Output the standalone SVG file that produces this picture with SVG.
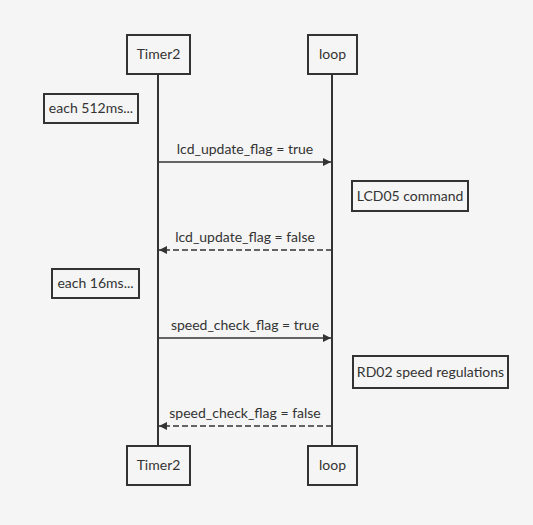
<svg xmlns="http://www.w3.org/2000/svg" width="533" height="525" viewBox="0 0 533 525">
<defs>
<style>
.box{fill:#f5f5f5;stroke:#333;stroke-width:2}
.life{stroke:#333;stroke-width:2;fill:none}
.msg{stroke:#333;stroke-width:1.5;fill:none}
.dash{stroke-dasharray:6 3}
text{font-family:Lato,"Noto Sans",sans-serif;font-size:14px;fill:#333}
.c{text-anchor:middle}
</style>
<marker id="ah" viewBox="0 0 10 10" refX="10" refY="5" markerWidth="8" markerHeight="8" markerUnits="userSpaceOnUse" orient="auto"><path d="M0,0 L10,5 L0,10 z" fill="#333"/></marker>
</defs>
<rect width="533" height="525" fill="#f5f5f5"/>
<g id="connectors">
<line class="life" x1="158" y1="74" x2="158" y2="446"/>
<line class="life" x1="332" y1="74" x2="332" y2="446"/>
<line class="msg" x1="158" y1="162" x2="331" y2="162" marker-end="url(#ah)"/>
<text class="c" x="245" y="154">lcd_update_flag = true</text>
<line class="msg dash" x1="332" y1="250" x2="159" y2="250" marker-end="url(#ah)"/>
<text class="c" x="245" y="242">lcd_update_flag = false</text>
<line class="msg" x1="158" y1="338" x2="331" y2="338" marker-end="url(#ah)"/>
<text class="c" x="245" y="330">speed_check_flag = true</text>
<line class="msg dash" x1="332" y1="426" x2="159" y2="426" marker-end="url(#ah)"/>
<text class="c" x="245" y="418">speed_check_flag = false</text>
</g>
<g id="timer2-top"><rect class="box" x="127" y="35" width="63" height="39"/><text class="c" x="158.5" y="59">Timer2</text></g>
<g id="loop-top"><rect class="box" x="308" y="35" width="49" height="39"/><text class="c" x="332.5" y="59">loop</text></g>
<g id="timer2-bottom"><rect class="box" x="127" y="446" width="63" height="39"/><text class="c" x="158.5" y="470">Timer2</text></g>
<g id="loop-bottom"><rect class="box" x="308" y="446" width="49" height="39"/><text class="c" x="332.5" y="470">loop</text></g>
<g id="note-512"><rect class="box" x="44" y="94" width="94" height="29"/><text class="c" x="91" y="113">each 512ms...</text></g>
<g id="note-lcd05"><rect class="box" x="352" y="181" width="116" height="30"/><text class="c" x="410" y="201">LCD05 command</text></g>
<g id="note-16"><rect class="box" x="52" y="269" width="87" height="29"/><text class="c" x="95.5" y="288">each 16ms...</text></g>
<g id="note-rd02"><rect class="box" x="353" y="356" width="155" height="32"/><text class="c" x="430.5" y="377">RD02 speed regulations</text></g>
</svg>
